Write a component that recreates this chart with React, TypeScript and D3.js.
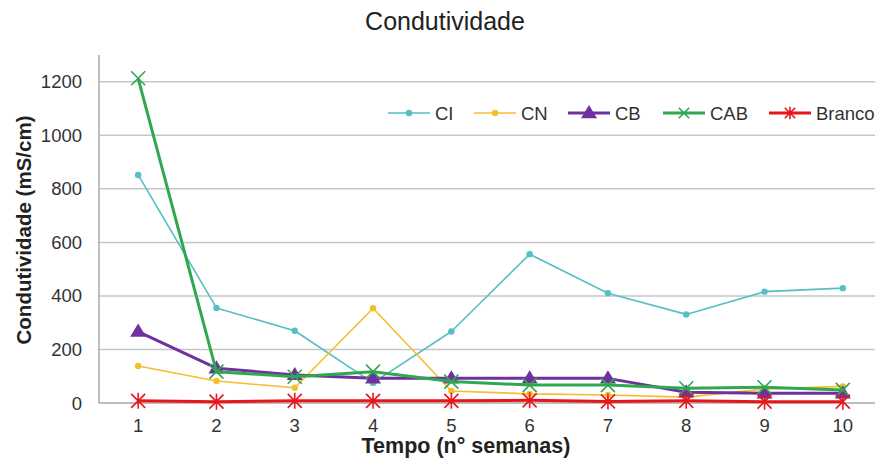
import React, { useEffect, useRef } from "react";
import * as d3 from "d3";

const weeks = ["1", "2", "3", "4", "5", "6", "7", "8", "9", "10"];
const yTicks = [0, 200, 400, 600, 800, 1000, 1200];

const ci = [852, 355, 270, 75, 267, 556, 410, 331, 416, 429];
const cn = [138, 82, 57, 354, 45, 34, 30, 22, 52, 62];
const cb = [267, 130, 105, 92, 92, 92, 92, 40, 36, 36];
const cab = [1213, 117, 98, 117, 80, 67, 67, 55, 59, 49];
const branco = [8, 5, 8, 8, 8, 10, 6, 8, 5, 5];

const seriesNames = ["CI", "CN", "CB", "CAB", "Branco"];
const seriesColors = ["#56BEC6", "#F4BE2C", "#7030A0", "#2FA84F", "#E8161B"];

type Mark = "dot" | "tri" | "x" | "star";
const seriesMarks: Mark[] = ["dot", "dot", "tri", "x", "star"];
const seriesWidths = [1.6, 1.6, 3, 3, 3];

const FONT = "Arial, 'Liberation Sans', sans-serif";

export default function App() {
  const svgRef = useRef<SVGSVGElement>(null);

  useEffect(() => {
    if (!svgRef.current) return;
    const svg = d3.select(svgRef.current);
    svg.selectAll("*").remove();

    const width = 875;
    const height = 459;
    const left = 99;
    const right = 882;
    const top = 55;
    const bottom = 403;

    const x = d3.scalePoint<string>().domain(weeks).range([left, right]).padding(0.5);
    const y = d3.scaleLinear().domain([0, 1300]).range([bottom, top]);

    svg.append("rect").attr("width", width).attr("height", height).attr("fill", "#fff");

    // gridlines
    svg
      .append("g")
      .selectAll("line")
      .data(yTicks.filter((t) => t > 0))
      .join("line")
      .attr("x1", left)
      .attr("x2", width)
      .attr("y1", (d) => y(d))
      .attr("y2", (d) => y(d))
      .attr("stroke", "#c6c6c6")
      .attr("stroke-width", 1.5);

    // axes lines
    svg.append("line").attr("x1", left).attr("x2", width).attr("y1", y(0)).attr("y2", y(0))
      .attr("stroke", "#a8a8a8").attr("stroke-width", 1.5);
    svg.append("line").attr("x1", left).attr("x2", left).attr("y1", top).attr("y2", y(0))
      .attr("stroke", "#a8a8a8").attr("stroke-width", 1.5);

    // y tick labels
    svg
      .append("g")
      .selectAll("text")
      .data(yTicks)
      .join("text")
      .attr("x", 82)
      .attr("y", (d) => y(d) + 6.5)
      .attr("text-anchor", "end")
      .attr("font-family", FONT)
      .attr("font-size", 18.5)
      .attr("fill", "#333")
      .text((d) => String(d));

    // x tick labels
    svg
      .append("g")
      .selectAll("text")
      .data(weeks)
      .join("text")
      .attr("x", (d) => x(d)!)
      .attr("y", 432)
      .attr("text-anchor", "middle")
      .attr("font-family", FONT)
      .attr("font-size", 18.5)
      .attr("fill", "#333")
      .text((d) => d);

    // titles
    svg.append("text").attr("x", 445).attr("y", 30).attr("text-anchor", "middle")
      .attr("font-family", FONT).attr("font-size", 25).attr("fill", "#222").text("Condutividade");
    svg.append("text").attr("x", 466).attr("y", 453).attr("text-anchor", "middle")
      .attr("font-family", FONT).attr("font-size", 21.5).attr("font-weight", "bold").attr("fill", "#222")
      .text("Tempo (n° semanas)");
    svg.append("text").attr("transform", `translate(31,230) rotate(-90)`).attr("text-anchor", "middle")
      .attr("font-family", FONT).attr("font-size", 20.5).attr("font-weight", "bold").attr("fill", "#222")
      .text("Condutividade (mS/cm)");

    const drawMark = (g: d3.Selection<SVGGElement, unknown, null, undefined>, m: Mark, cx: number, cy: number, color: string, scale = 1) => {
      if (m === "dot") {
        g.append("circle").attr("cx", cx).attr("cy", cy).attr("r", 3.2 * scale).attr("fill", color);
      } else if (m === "tri") {
        const s = 8 * scale;
        g.append("path")
          .attr("d", `M${cx},${cy - s}L${cx + s},${cy + s * 0.65}L${cx - s},${cy + s * 0.65}Z`)
          .attr("fill", color);
      } else if (m === "x") {
        const s = 7 * scale;
        g.append("path")
          .attr("d", `M${cx - s},${cy - s}L${cx + s},${cy + s}M${cx - s},${cy + s}L${cx + s},${cy - s}`)
          .attr("stroke", color).attr("stroke-width", 1.6).attr("fill", "none");
      } else {
        const s = 7 * scale;
        g.append("path")
          .attr("d", `M${cx - s},${cy - s}L${cx + s},${cy + s}M${cx - s},${cy + s}L${cx + s},${cy - s}M${cx},${cy - s - 1}L${cx},${cy + s + 1}`)
          .attr("stroke", color).attr("stroke-width", 1.6).attr("fill", "none");
      }
    };

    const allSeries = [ci, cn, cb, cab, branco];
    allSeries.forEach((vals, i) => {
      const color = seriesColors[i];
      const g = svg.append("g");
      const line = d3
        .line<number>()
        .x((_, k) => x(weeks[k])!)
        .y((d) => y(d));
      g.append("path")
        .datum(vals)
        .attr("d", line)
        .attr("fill", "none")
        .attr("stroke", color)
        .attr("stroke-width", seriesWidths[i])
        .attr("stroke-linejoin", "round");
      vals.forEach((v, k) => drawMark(g, seriesMarks[i], x(weeks[k])!, y(v), color));
    });

    // legend
    const legendX = [388, 474, 568, 663, 769];
    const ly = 113;
    seriesNames.forEach((name, i) => {
      const g = svg.append("g");
      const x0 = legendX[i];
      g.append("line").attr("x1", x0).attr("x2", x0 + 42).attr("y1", ly).attr("y2", ly)
        .attr("stroke", seriesColors[i]).attr("stroke-width", seriesWidths[i]);
      drawMark(g, seriesMarks[i], x0 + 21, ly, seriesColors[i], i >= 3 ? 0.75 : 1);
      g.append("text").attr("x", x0 + 47).attr("y", ly + 6.5).attr("font-family", FONT)
        .attr("font-size", 18.5).attr("fill", "#333").text(name);
    });
  }, []);

  return (
    <svg
      ref={svgRef}
      width={875}
      height={459}
      style={{ display: "block", position: "absolute", left: 0, top: 0 }}
    />
  );
}
